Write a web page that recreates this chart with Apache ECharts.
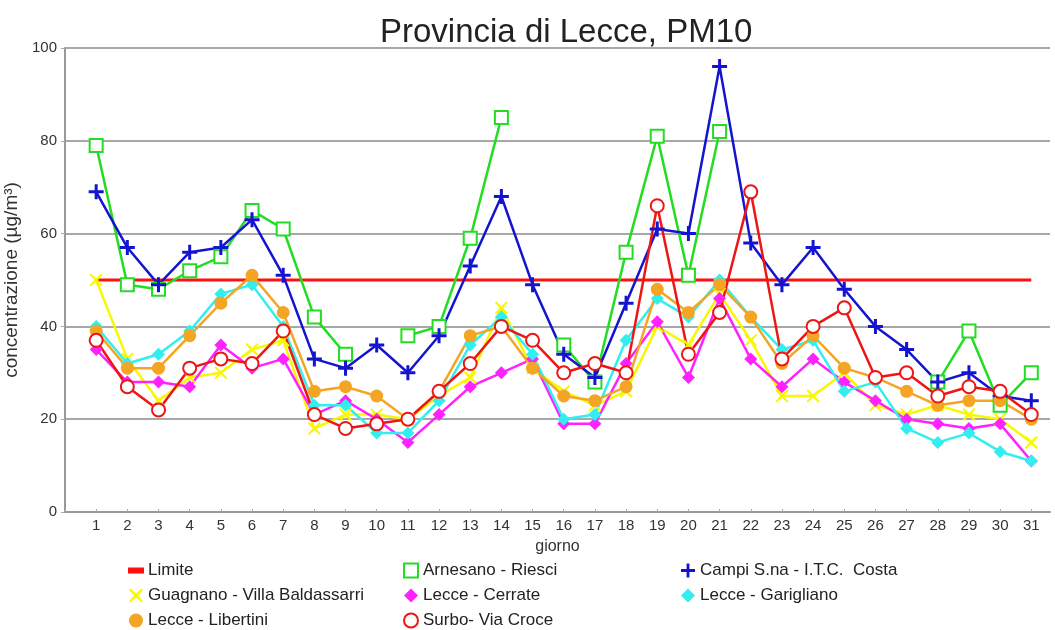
<!DOCTYPE html>
<html>
<head>
<meta charset="utf-8">
<script src="https://cdn.jsdelivr.net/npm/echarts@6/dist/echarts.min.js"></script>
<style>
  html, body { margin: 0; padding: 0; background: #fff; }
  #main { width: 1055px; height: 630px; }
</style>
</head>
<body>
<div id="main"></div>
<script>
// giorni del mese
var days = [1, 2, 3, 4, 5, 6, 7, 8, 9, 10, 11, 12, 13, 14, 15, 16, 17, 18, 19, 20, 21, 22, 23, 24, 25, 26, 27, 28, 29, 30, 31];
var yTicks = [0, 20, 40, 60, 80, 100];

var limite = [50, 50, 50, 50, 50, 50, 50, 50, 50, 50, 50, 50, 50, 50, 50, 50, 50, 50, 50, 50, 50, 50, 50, 50, 50, 50, 50, 50, 50, 50, 50];
var arnesano = [79, 49, 48, 52, 55, 65, 61, 42, 34, null, 38, 40, 59, 85, null, 36, 28, 56, 81, 51, 82, null, null, null, null, null, null, 28, 39, 23, 30];
var campi = [69, 57, 49, 56, 57, 63, 51, 33, 31, 36, 30, 38, 53, 68, 49, 34, 29, 45, 61, 60, 96, 58, 49, 57, 48, 40, 35, 28, 30, 25, 24];
var guagnano = [50, 33, 24, 29, 30, 35, 37, 18, 21, 21, 20, 25, 29, 44, 31, 26, 23, 26, 40, 36, 47, 37, 25, 25, 30, 23, 21, 23, 21, 20, 15];
var cerrate = [35, 28, 28, 27, 36, 31, 33, 21, 24, 20, 15, 21, 27, 30, 33, 19, 19, 32, 41, 29, 46, 33, 27, 33, 28, 24, 20, 19, 18, 19, 11];
var garigliano = [40, 32, 34, 39, 47, 49, 40, 23, 23, 17, 17, 24, 36, 42, 34, 20, 21, 37, 46, 42, 50, 42, 35, 37, 26, 28, 18, 15, 17, 13, 11];
var libertini = [39, 31, 31, 38, 45, 51, 43, 26, 27, 25, 20, 26, 38, 40, 31, 25, 24, 27, 48, 43, 49, 42, 32, 38, 31, 29, 26, 23, 24, 24, 20];
var surbo = [37, 27, 22, 31, 33, 32, 39, 21, 18, 19, 20, 26, 32, 40, 37, 30, 32, 30, 66, 34, 43, 69, 33, 40, 44, 29, 30, 25, 27, 26, 21];

var FONT = '"Liberation Sans", Arial, sans-serif';

var plusPath = 'path://M4,0H6V4H10V6H6V10H4V6H0V4H4Z';
var starPath = 'path://M1,0L5,3.6L9,0L10,1L6.4,5L10,9L9,10L5,6.4L1,10L0,9L3.6,5L0,1Z';

function pairs(arr) {
  return days.map(function (d, i) { return [d, arr[i]]; });
}

function mkSeries(name, arr, color, symbol, size, extra) {
  var s = {
    name: name,
    type: 'line',
    data: pairs(arr),
    symbol: symbol,
    symbolSize: size,
    connectNulls: false,
    lineStyle: { color: color, width: 2.5 },
    itemStyle: { color: color, borderColor: color, borderWidth: 2 },
    emphasis: { disabled: true },
    z: 3
  };
  return Object.assign(s, extra || {});
}

// una colonna della legenda
function legendCol(left, items) {
  return {
    orient: 'vertical', left: left, top: 557, height: 90,
    itemGap: 8, itemWidth: 14, itemHeight: 14,
    textStyle: { fontSize: 17, color: '#222', fontFamily: FONT },
    data: items
  };
}

var myChart = echarts.init(document.getElementById('main'));

var option = {
  backgroundColor: '#fff',
  animation: false,
  textStyle: { fontFamily: FONT },
  title: {
    text: 'Provincia di Lecce, PM10',
    left: 375,
    top: 11,
    textStyle: { fontSize: 33, fontWeight: 'normal', color: '#222', fontFamily: FONT }
  },
  grid: { left: 65, right: 5, top: 48, bottom: 118, outerBoundsMode: 'none' },
  legend: [
    legendCol(123, [
      { name: 'Limite', icon: 'path://M0,0H10V3H0Z' },
      { name: 'Guagnano - Villa Baldassarri', icon: starPath },
      { name: 'Lecce - Libertini', icon: 'circle' }
    ]),
    legendCol(398, [
      { name: 'Arnesano - Riesci', icon: 'emptyRect' },
      { name: 'Lecce - Cerrate', icon: 'diamond' },
      { name: 'Surbo- Via Croce', icon: 'emptyCircle' }
    ]),
    legendCol(676, [
      { name: 'Campi S.na - I.T.C.  Costa', icon: plusPath },
      { name: 'Lecce - Garigliano', icon: 'diamond' }
    ])
  ],
  xAxis: {
    type: 'value',
    min: 0,
    max: 31.6,
    interval: 1,
    name: 'giorno',
    nameLocation: 'middle',
    nameGap: 27,
    nameTextStyle: { fontSize: 16, color: '#333' },
    axisLine: { lineStyle: { color: '#999', width: 2 } },
    axisTick: { inside: true, length: 3, lineStyle: { color: '#aaa' } },
    splitLine: { show: false },
    axisLabel: {
      fontSize: 15, color: '#333', margin: 6,
      showMaxLabel: false,
      formatter: function (v) { return (Number.isInteger(v) && v > 0) ? String(v) : ''; }
    }
  },
  yAxis: {
    type: 'value',
    min: yTicks[0],
    max: yTicks[yTicks.length - 1],
    interval: 20,
    name: 'concentrazione (µg/m³)',
    nameLocation: 'middle',
    nameGap: 36,
    nameTextStyle: { fontSize: 19, color: '#333' },
    axisLine: { show: true, lineStyle: { color: '#999', width: 2 } },
    axisTick: { show: true, length: 4, lineStyle: { color: '#aaa' } },
    splitLine: { lineStyle: { color: '#a8a8a8', width: 2 } },
    axisLabel: { fontSize: 15, color: '#333', margin: 8 }
  },
  series: [
    mkSeries('Limite', limite, '#ff1010', 'none', 0, { lineStyle: { color: '#ff1010', width: 3 }, z: 2 }),
    mkSeries('Arnesano - Riesci', arnesano, '#22dd22', 'emptyRect', 13),
    mkSeries('Campi S.na - I.T.C.  Costa', campi, '#1414d0', plusPath, 15, {
      itemStyle: { color: '#1414d0', borderWidth: 0 }
    }),
    mkSeries('Guagnano - Villa Baldassarri', guagnano, '#f8f800', starPath, 13, {
      itemStyle: { color: '#f8f800', borderWidth: 0 }
    }),
    mkSeries('Lecce - Cerrate', cerrate, '#ff22ff', 'diamond', 13, {
      itemStyle: { color: '#ff22ff', borderWidth: 0 }
    }),
    mkSeries('Lecce - Garigliano', garigliano, '#33eeee', 'diamond', 13, {
      itemStyle: { color: '#33eeee', borderWidth: 0 }
    }),
    mkSeries('Lecce - Libertini', libertini, '#f5a524', 'circle', 13, {
      itemStyle: { color: '#f5a524', borderWidth: 0 }
    }),
    mkSeries('Surbo- Via Croce', surbo, '#ee1515', 'emptyCircle', 13)
  ]
};

myChart.setOption(option);
</script>
</body>
</html>
